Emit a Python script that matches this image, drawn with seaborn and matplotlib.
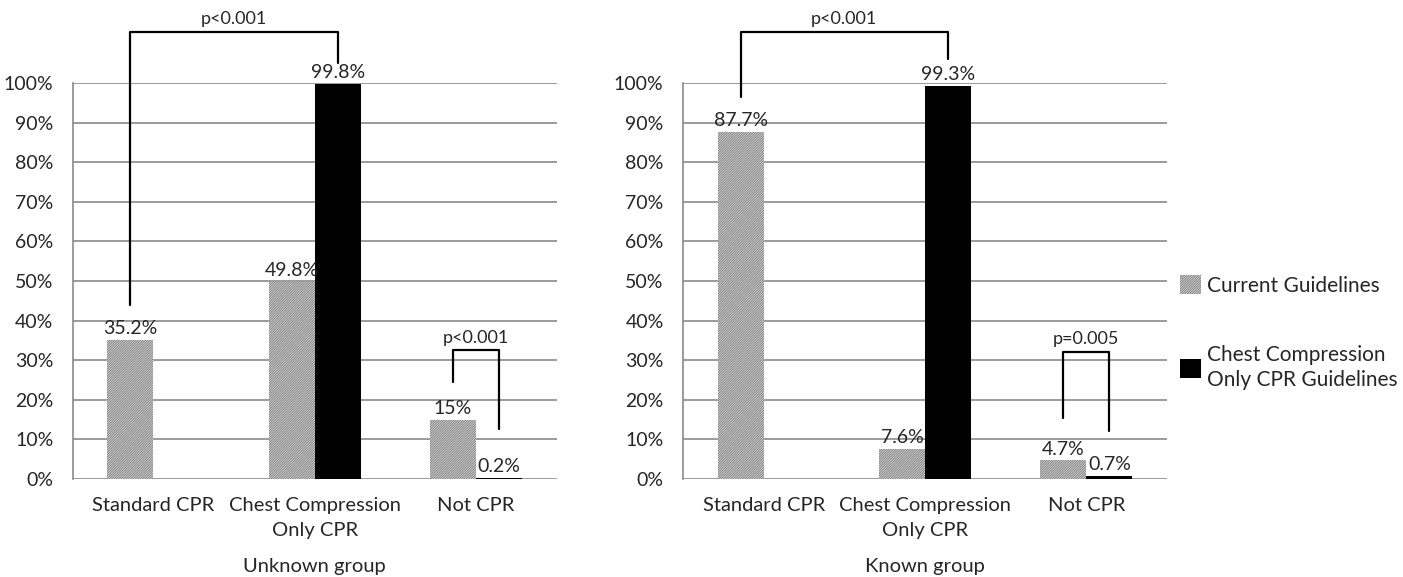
import numpy as np
import pandas as pd
import seaborn as sns
import matplotlib.pyplot as plt
from matplotlib.patches import Patch

# data (percent)
categories = ["Standard CPR", "Chest Compression\nOnly CPR", "Not CPR"]
guidelines = ["Current Guidelines", "Chest Compression\nOnly CPR Guidelines"]

unknown_current = [35.2, 49.8, 15.0]
unknown_cco = [0.0, 99.8, 0.2]
known_current = [87.7, 7.6, 4.7]
known_cco = [0.0, 99.3, 0.7]

unknown_current_lbl = ["35.2%", "49.8%", "15%"]
unknown_cco_lbl = ["", "99.8%", "0.2%"]
known_current_lbl = ["87.7%", "7.6%", "4.7%"]
known_cco_lbl = ["", "99.3%", "0.7%"]

# brackets: (cat_a, hue_a, cat_b, hue_b, top, bottom_a, bottom_b, text)
unknown_brackets = [(0, 0, 1, 1, 113, 44, 105, "p<0.001"),
                    (2, 0, 2, 1, 32.5, 24.5, 12.5, "p<0.001")]
known_brackets = [(0, 0, 1, 1, 113, 96.5, 106, "p<0.001"),
                  (2, 0, 2, 1, 32, 15.5, 12, "p=0.005")]

sns.set_style("white")
plt.rcParams['font.family'] = ['Lato', 'DejaVu Sans']
plt.rcParams['hatch.linewidth'] = 0.7

fig = plt.figure(figsize=(14.03, 5.77), dpi=100)
ax1 = fig.add_axes([0.0518, 0.170, 0.345, 0.686])
ax2 = fig.add_axes([0.4868, 0.170, 0.345, 0.686])

grey_face = "#e6e6e6"
hatch_col = "#7c7c7c"
HATCH = "/" * 14


def draw(ax, cur, cco, cur_lbl, cco_lbl, brackets, title):
    df = pd.DataFrame({
        "cat": categories * 2,
        "guide": [guidelines[0]] * 3 + [guidelines[1]] * 3,
        "val": list(cur) + list(cco),
    })
    sns.barplot(data=df, x="cat", y="val", hue="guide", order=categories,
                hue_order=guidelines, palette=[grey_face, "black"],
                width=0.57, saturation=1, ax=ax, legend=False, zorder=3)
    for p in ax.containers[0]:
        p.set_hatch(HATCH)
        p.set_edgecolor(hatch_col)
        p.set_linewidth(0)
    for p in ax.containers[1]:
        p.set_edgecolor("black")
        p.set_linewidth(0)

    ax.bar_label(ax.containers[0], labels=cur_lbl, padding=2, fontsize=14)
    ax.bar_label(ax.containers[1], labels=cco_lbl, padding=2, fontsize=14)

    ax.set_xlim(-0.5, 2.5)
    ax.set_ylim(0, 100)
    ax.set_yticks(np.arange(0, 101, 10))
    ax.set_yticklabels([f"{v}%" for v in range(0, 101, 10)])
    ax.yaxis.grid(True, color="#8a8a8a", linewidth=1.2, zorder=0)
    ax.set_axisbelow(True)
    for s in ["top", "right", "bottom"]:
        ax.spines[s].set_visible(False)
    ax.spines["left"].set_color("#8a8a8a")
    ax.spines["left"].set_linewidth(1.2)
    ax.tick_params(axis="y", length=0, pad=14, labelsize=14)
    ax.tick_params(axis="x", length=0, pad=13, labelsize=14.5)
    for t in ax.get_xticklabels():
        t.set_linespacing(1.55)
    ax.set_ylabel("")
    ax.set_xlabel(title, fontsize=14.5, labelpad=14)

    for ca, ha, cb, hb, top, ba, bb, txt in brackets:
        pa = ax.containers[ha][ca]
        pb = ax.containers[hb][cb]
        xa = pa.get_x() + pa.get_width() / 2
        xb = pb.get_x() + pb.get_width() / 2
        ax.plot([xa, xa, xb, xb], [ba, top, top, bb], color="black",
                linewidth=1.6, clip_on=False, zorder=4)
        ax.text((xa + xb) / 2, top + 1.2, txt, ha="center", va="bottom",
                fontsize=13)


draw(ax1, unknown_current, unknown_cco, unknown_current_lbl, unknown_cco_lbl,
     unknown_brackets, "Unknown group")
draw(ax2, known_current, known_cco, known_current_lbl, known_cco_lbl,
     known_brackets, "Known group")

handles = [Patch(facecolor=grey_face, edgecolor=hatch_col, hatch=HATCH,
                 linewidth=0),
           Patch(facecolor="black", edgecolor="black", linewidth=0)]
leg = fig.legend(handles, guidelines, loc="upper left",
                 bbox_to_anchor=(0.841, 0.523), frameon=False, fontsize=15,
                 handlelength=1.0, handleheight=1.0, handletextpad=0.3,
                 labelspacing=2.35, borderpad=0, borderaxespad=0)
for t in leg.get_texts():
    t.set_linespacing(1.35)

fig.savefig("out.png", dpi=100)
